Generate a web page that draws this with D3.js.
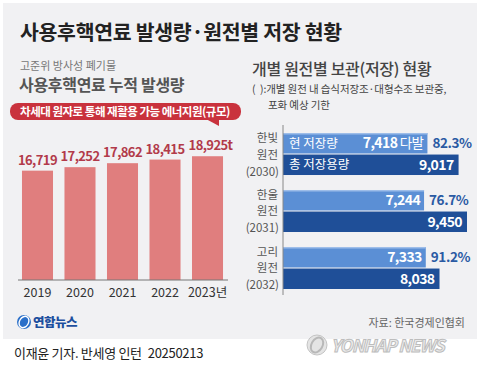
<!DOCTYPE html>
<html>
<head>
<meta charset="utf-8">
<script src="https://cdn.jsdelivr.net/npm/d3@7"></script>
<style>
  body { margin: 0; background: #fff; }
  svg text { font-family: "Noto Sans CJK KR", "Noto Sans", sans-serif; }
</style>
</head>
<body>
<div id="chart"></div>
<script>
// data
var years = ["2019", "2020", "2021", "2022", "2023"];
var generated = [16719, 17252, 17862, 18415, 18925];

var plants = ["한빛", "한울", "고리"];
var saturation = ["2030", "2031", "2032"];
var stored = [7418, 7244, 7333];
var capacity = [9017, 9450, 8038];
var ratio = ["82.3%", "76.7%", "91.2%"];

var width = 480;
var height = 373;

var svg = d3.select("#chart")
    .append("svg")
    .attr("width", width)
    .attr("height", height);

// gray panel
svg.append("rect")
    .attr("x", 3).attr("y", 3)
    .attr("width", 474).attr("height", 336)
    .attr("fill", "#f1f1f3");

// title
svg.append("text")
    .attr("x", 20).attr("y", 40)
    .attr("font-size", 20.5)
    .attr("font-weight", 700)
    .attr("letter-spacing", -0.3)
    .attr("fill", "#222")
    .text("사용후핵연료 발생량·원전별 저장 현황");

// left block headings ################################
svg.append("text")
    .attr("x", 20).attr("y", 70)
    .attr("font-size", 11)
    .attr("fill", "#777")
    .text("고준위 방사성 폐기물");

svg.append("text")
    .attr("x", 19).attr("y", 91)
    .attr("font-size", 16)
    .attr("font-weight", 700)
    .attr("letter-spacing", -0.3)
    .attr("fill", "#555")
    .text("사용후핵연료 누적 발생량");

// red speech bubble
var bubble = svg.append("g");
bubble.append("rect")
    .attr("x", 10).attr("y", 103)
    .attr("width", 231).attr("height", 17)
    .attr("rx", 8)
    .attr("fill", "#c9323d");
bubble.append("path")
    .attr("d", "M206,119 L219,119 L219,126 Z")
    .attr("fill", "#c9323d");
bubble.append("text")
    .attr("x", 125).attr("y", 116)
    .attr("text-anchor", "middle")
    .attr("font-size", 11.5)
    .attr("font-weight", 700)
    .attr("letter-spacing", -0.5)
    .attr("fill", "#fff")
    .text("차세대 원자로 통해 재활용 가능 에너지원(규모)");

// vertical bars ###################################
var baseY = 280;
var xBand = d3.scaleBand()
    .domain(years)
    .range([10.5, 234.5])
    .padding(0.27);

var yLin = d3.scaleLinear()
    .domain([0, 20000])
    .range([baseY, baseY - 130.8]);

var barData = years.map(function(y, i) { return { year: y, value: generated[i] }; });

svg.selectAll("rect.vbar")
    .data(barData)
    .enter()
    .append("rect")
    .attr("class", "vbar")
    .attr("x", function(d) { return xBand(d.year); })
    .attr("y", function(d) { return yLin(d.value); })
    .attr("width", xBand.bandwidth())
    .attr("height", function(d) { return baseY - yLin(d.value); })
    .attr("fill", "#e07e7e");

svg.selectAll("text.vval")
    .data(barData)
    .enter()
    .append("text")
    .attr("class", "vval")
    .attr("x", function(d, i) { return xBand(d.year) + xBand.bandwidth() / 2 + (i === 4 ? 3 : 0); })
    .attr("y", function(d) { return yLin(d.value) - 6; })
    .attr("text-anchor", "middle")
    .attr("font-size", 13)
    .attr("font-weight", 700)
    .attr("letter-spacing", -0.6)
    .attr("fill", "#b23a4a")
    .text(function(d, i) { return d3.format(",")(d.value) + (i === 4 ? "t" : ""); });

// x axis
var xAxis = d3.axisBottom(xBand).tickSize(0).tickPadding(8)
    .tickFormat(function(d, i) { return i === 4 ? d + "년" : d; });
var gx = svg.append("g")
    .attr("transform", "translate(0," + baseY + ")")
    .call(xAxis);
gx.select(".domain").remove();
gx.append("line")
    .attr("x1", 18).attr("x2", 228)
    .attr("stroke", "#777").attr("stroke-width", 1);
gx.selectAll("text")
    .attr("font-family", "'Noto Sans CJK KR', sans-serif")
    .attr("font-size", 12.5)
    .attr("fill", "#333");

// right block headings ###############################
svg.append("text")
    .attr("x", 252).attr("y", 75)
    .attr("font-size", 16)
    .attr("font-weight", 500)
    .attr("letter-spacing", -0.3)
    .attr("fill", "#444")
    .text("개별 원전별 보관(저장) 현황");

svg.append("text")
    .attr("x", 252).attr("y", 93)
    .attr("font-size", 10.5)
    .attr("letter-spacing", -0.1)
    .attr("fill", "#444")
    .attr("xml:space", "preserve")
    .text("(  ):개별 원전 내 습식저장조·대형수조 보관중,");

svg.append("text")
    .attr("x", 268).attr("y", 108.5)
    .attr("font-size", 10.5)
    .attr("letter-spacing", -0.1)
    .attr("fill", "#444")
    .text("포화 예상 기한");

// horizontal bars #################################
var x0 = 283;
var hx = d3.scaleLinear()
    .domain([0, 9450])
    .range([x0, 467]);

var gBand = d3.scaleBand()
    .domain(plants)
    .range([133, 289])
    .paddingInner(0.263);

var sub = d3.scaleBand()
    .domain(["cur", "tot"])
    .range([0, gBand.bandwidth()])
    .paddingInner(0.05);

var plantData = plants.map(function(p, i) {
    return { plant: p, year: saturation[i], cur: stored[i], tot: capacity[i], pct: ratio[i], idx: i };
});

var groups = svg.selectAll("g.plant")
    .data(plantData)
    .enter()
    .append("g")
    .attr("class", "plant")
    .attr("transform", function(d) { return "translate(0," + gBand(d.plant) + ")"; });

// current stock bar (light)
groups.append("rect")
    .attr("x", x0)
    .attr("y", sub("cur"))
    .attr("width", function(d) { return hx(d.cur) - x0; })
    .attr("height", sub.bandwidth())
    .attr("fill", "#5b8fd5");
groups.append("line")
    .attr("x1", x0)
    .attr("x2", function(d) { return hx(d.cur); })
    .attr("y1", sub("cur") + 0.75)
    .attr("y2", sub("cur") + 0.75)
    .attr("stroke", "#9dbde9")
    .attr("stroke-width", 1.5);

// total capacity bar (dark)
groups.append("rect")
    .attr("x", x0)
    .attr("y", sub("tot"))
    .attr("width", function(d) { return hx(d.tot) - x0; })
    .attr("height", sub.bandwidth())
    .attr("fill", "#1f4f98");

// values inside bars
var curText = groups.append("text")
    .attr("x", function(d) { return hx(d.cur) - 4; })
    .attr("y", sub("cur") + sub.bandwidth() / 2 + 5)
    .attr("text-anchor", "end")
    .attr("font-size", 14)
    .attr("font-weight", 700)
    .attr("letter-spacing", -0.6)
    .attr("fill", "#fff");
curText.append("tspan")
    .text(function(d) { return d3.format(",")(d.cur); });
curText.filter(function(d) { return d.idx === 0; })
    .append("tspan")
    .attr("font-weight", 400)
    .attr("font-size", 13.5)
    .text(" 다발");

groups.append("text")
    .attr("x", function(d) { return hx(d.tot) - 5; })
    .attr("y", sub("tot") + sub.bandwidth() / 2 + 5)
    .attr("text-anchor", "end")
    .attr("font-size", 14)
    .attr("font-weight", 700)
    .attr("letter-spacing", -0.6)
    .attr("fill", "#fff")
    .text(function(d) { return d3.format(",")(d.tot); });

// legend-like labels inside first group
groups.filter(function(d) { return d.idx === 0; })
    .append("text")
    .attr("x", x0 + 6)
    .attr("y", sub("cur") + sub.bandwidth() / 2 + 4.5)
    .attr("font-size", 12.5)
    .attr("fill", "#fff")
    .text("현 저장량");
groups.filter(function(d) { return d.idx === 0; })
    .append("text")
    .attr("x", x0 + 6)
    .attr("y", sub("tot") + sub.bandwidth() / 2 + 4.5)
    .attr("font-size", 12.5)
    .attr("fill", "#fff")
    .text("총 저장용량");

// percentage
groups.append("text")
    .attr("x", function(d) { return hx(d.cur) + 5; })
    .attr("y", sub("cur") + sub.bandwidth() / 2 + 5)
    .attr("font-size", 13.5)
    .attr("font-weight", 700)
    .attr("letter-spacing", -0.4)
    .attr("fill", "#2a5aa3")
    .text(function(d) { return d.pct; });

// category labels (3 lines, separate texts)
var mid = gBand.bandwidth() / 2;
groups.append("text")
    .attr("x", 278).attr("y", mid - 12.5)
    .attr("text-anchor", "end")
    .attr("font-size", 11.5)
    .attr("fill", "#555")
    .text(function(d) { return d.plant; });
groups.append("text")
    .attr("x", 278).attr("y", mid + 4.5)
    .attr("text-anchor", "end")
    .attr("font-size", 11.5)
    .attr("fill", "#555")
    .text("원전");
groups.append("text")
    .attr("x", 279).attr("y", mid + 21.5)
    .attr("text-anchor", "end")
    .attr("font-size", 11.5)
    .attr("fill", "#555")
    .text(function(d) { return "(" + d.year + ")"; });

// vertical axis line
svg.append("line")
    .attr("x1", x0).attr("x2", x0)
    .attr("y1", 125).attr("y2", 295)
    .attr("stroke", "#888").attr("stroke-width", 1);

// source
svg.append("text")
    .attr("x", 465).attr("y", 327)
    .attr("text-anchor", "end")
    .attr("font-size", 11)
    .attr("fill", "#666")
    .text("자료: 한국경제인협회");

// yonhap logo
var logo = svg.append("g").attr("transform", "translate(24,322)");
logo.append("circle").attr("r", 7).attr("fill", "#2a6fc9");
logo.append("ellipse").attr("rx", 4.5).attr("ry", 6).attr("transform", "rotate(30)")
    .attr("fill", "none").attr("stroke", "#fff").attr("stroke-width", 1.4);
logo.append("text")
    .attr("x", 9).attr("y", 4.5)
    .attr("font-size", 12.5)
    .attr("font-weight", 900)
    .attr("letter-spacing", -0.5)
    .attr("fill", "#1d4f9e")
    .text("연합뉴스");

// watermark
var wm = svg.append("g").attr("transform", "translate(317,345)");
wm.append("circle").attr("r", 10).attr("fill", "#e4e4e4").attr("stroke", "#c4c4c4").attr("stroke-width", 1);
wm.append("ellipse").attr("rx", 5.5).attr("ry", 8).attr("transform", "rotate(30)")
    .attr("fill", "none").attr("stroke", "#b8b8b8").attr("stroke-width", 2);
wm.append("text")
    .attr("x", 14).attr("y", 6.5)
    .attr("font-family", "'DejaVu Sans', sans-serif")
    .attr("font-size", 17)
    .attr("font-weight", 700)
    .attr("font-style", "italic")
    .attr("letter-spacing", -1)
    .attr("fill", "#ececec")
    .attr("stroke", "#bdbdbd")
    .attr("stroke-width", 1)
    .text("YONHAP NEWS");

// byline
var byline = svg.append("text")
    .attr("x", 14).attr("y", 358)
    .attr("font-size", 13)
    .attr("letter-spacing", -0.3)
    .attr("fill", "#222");
byline.append("tspan").text("이재윤 기자. 반세영 인턴");
byline.append("tspan").attr("dx", 6).text("20250213");
</script>
</body>
</html>
